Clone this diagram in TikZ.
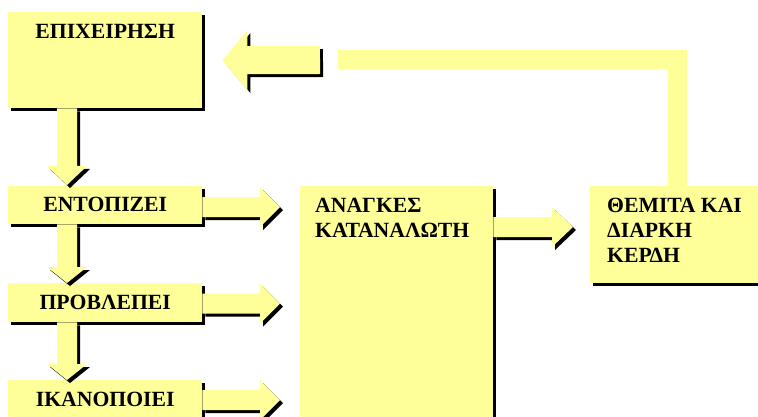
\documentclass[tikz,border=0pt]{standalone}
\usepackage{fontspec}
\setmainfont{Liberation Serif}
\usetikzlibrary{calc,shadows}
\definecolor{paleyellow}{HTML}{FFFF99}

\makeatletter
% Block arrow from #1 to #2 (tip), with shaft half-width #3,
% head half-width #4 and head length #5; black copy offset as a shadow.
\newcommand\blockarrow[5]{%
  \path #1 coordinate (ba-s) #2 coordinate (ba-e);
  \pgfpointdiff{\pgfpointanchor{ba-s}{center}}{\pgfpointanchor{ba-e}{center}}%
  \pgfgetlastxy{\ba@dx}{\ba@dy}%
  \pgfmathsetmacro\ba@len{veclen(\ba@dx,\ba@dy)}%
  \pgfmathsetmacro\ba@ang{atan2(\ba@dy,\ba@dx)}%
  \fill[black, shift={($(ba-s)+(3pt,-3pt)$)}, rotate=\ba@ang, x=1pt, y=1pt]
    (0,#3) -- (\ba@len-#5,#3) -- (\ba@len-#5,#4) -- (\ba@len,0)
    -- (\ba@len-#5,-#4) -- (\ba@len-#5,-#3) -- (0,-#3) -- cycle;
  \fill[paleyellow, shift={(ba-s)}, rotate=\ba@ang, x=1pt, y=1pt]
    (0,#3) -- (\ba@len-#5,#3) -- (\ba@len-#5,#4) -- (\ba@len,0)
    -- (\ba@len-#5,-#4) -- (\ba@len-#5,-#3) -- (0,-#3) -- cycle;
}
\makeatother

\begin{document}
\begin{tikzpicture}[x=1pt,y=-1pt,
  font=\bfseries\fontsize{21.7}{25}\selectfont,
  box/.style={fill=paleyellow, inner sep=0pt, anchor=north west,
    text height=14pt, text depth=1pt,
    general shadow={fill=black, shadow xshift=3pt, shadow yshift=-3pt}},
  label/.style={inner sep=0pt, align=left}]
\useasboundingbox (0,0) rectangle (758,417);
\clip (0,0) rectangle (758,417);

% boxes
\node[box, minimum width=194pt, minimum height=96pt] (firm) at (8,12) {};
\node[box, minimum width=194pt, minimum height=38pt] (locate) at (8,186) {ΕΝΤΟΠΙΖΕΙ};
\node[box, minimum width=194pt, minimum height=39pt] (predict) at (8,283) {ΠΡΟΒΛΕΠΕΙ};
\node[box, minimum width=194pt, minimum height=40pt] (satisfy) at (8,380) {ΙΚΑΝΟΠΟΙΕΙ};
\node[box, minimum width=193pt, minimum height=245pt] (needs) at (300,186) {};
\node[box, minimum width=175pt, minimum height=97pt] (profits) at (590,186) {};

% box texts
\node[label, anchor=base] (firm-t) at ($(firm.north)+(0,27)$) {ΕΠΙΧΕΙΡΗΣΗ};
\node[label, anchor=north west] (needs-t) at ($(needs.north west)+(15,12)$)
  {ΑΝΑΓΚΕΣ\\ΚΑΤΑΝΑΛΩΤΗ};
\node[label, anchor=north west] (profits-t) at ($(profits.north west)+(17,12)$)
  {ΘΕΜΙΤΑ ΚΑΙ\\ΔΙΑΡΚΗ\\ΚΕΡΔΗ};

% feedback bar from the profits box back towards the firm
\coordinate (fb-end) at (338,60);
\coordinate (fb-start) at (320,60);
\draw[line width=19pt, paleyellow] ($(profits.north west)+(87,0)$) |- (fb-end);
\blockarrow{(fb-start)}{($(firm.east)+(20,0)$)}{14}{30}{25}

% downward arrows
\blockarrow{($(firm.south west)+(59,0)$)}{($(locate.north west)+(59,-1)$)}{10}{20}{19}
\blockarrow{($(locate.south west)+(59,0)$)}{($(predict.north west)+(59,0)$)}{10}{20}{16}
\blockarrow{($(predict.south west)+(59,0)$)}{($(satisfy.north west)+(59,0)$)}{10}{20}{16}

% arrows into the needs box
\blockarrow{($(locate.east)+(0,2)$)}{($(needs.west |- locate.east)+(-20,2)$)}{10}{20}{20}
\blockarrow{($(predict.east)+(0,1)$)}{($(needs.west |- predict.east)+(-20,1)$)}{10}{20}{20}
\blockarrow{($(satisfy.east)+(0,0)$)}{($(needs.west |- satisfy.east)+(-20,0)$)}{10}{20}{20}

% needs to profits
\blockarrow{($(needs.north east)+(0,41)$)}{($(profits.north west)+(-17,41)$)}{10}{20}{21}
\end{tikzpicture}
\end{document}
